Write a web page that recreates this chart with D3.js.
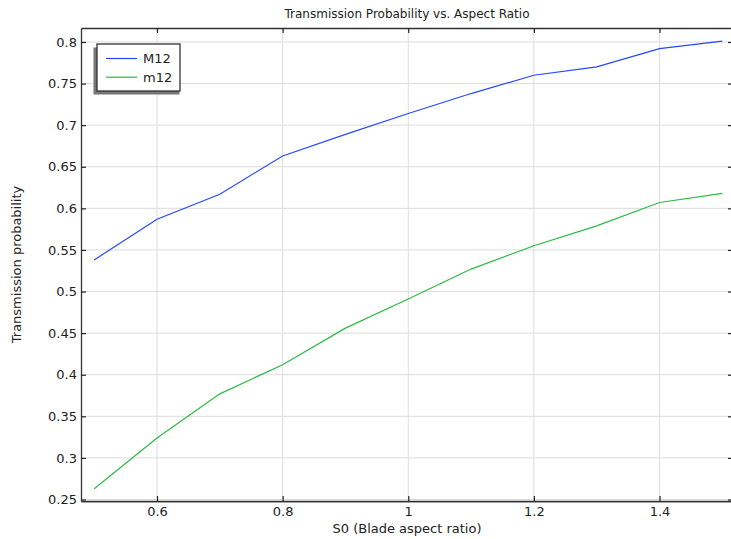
<!DOCTYPE html>
<html>
<head>
<meta charset="utf-8">
<script src="https://cdn.jsdelivr.net/npm/d3@7"></script>
<style>
  body { margin: 0; background: #fff; }
  text { font-family: "DejaVu Sans", sans-serif; fill: #222; }
</style>
</head>
<body>
<div id="chart"></div>
<script>
// aspect ratio values
const aspect = [0.5, 0.6, 0.7, 0.8, 0.9, 1.0, 1.1, 1.2, 1.3, 1.4, 1.5];
const seriesM12 = [0.538, 0.587, 0.617, 0.663, 0.689, 0.714, 0.738, 0.760, 0.770, 0.792, 0.801];
const seriesm12 = [0.263, 0.324, 0.377, 0.412, 0.456, 0.491, 0.527, 0.555, 0.579, 0.607, 0.618];
const xTicks = [0.6, 0.8, 1.0, 1.2, 1.4];
const yTicks = [0.25, 0.3, 0.35, 0.4, 0.45, 0.5, 0.55, 0.6, 0.65, 0.7, 0.75, 0.8];
const seriesNames = ["M12", "m12"];

const svg = d3.select("#chart")
    .append("svg")
    .attr("width", 731)
    .attr("height", 539);

const pLeft = 81, pRight = 733, pTop = 28, pBottom = 501;

const xScale = d3.scaleLinear().domain([0.479, 1.517]).range([pLeft, pRight]);
const yScale = d3.scaleLinear().domain([0.2482, 0.8168]).range([pBottom, pTop]);

// grid
svg.append("g").selectAll("line")
    .data(xTicks)
    .join("line")
    .attr("x1", d => xScale(d)).attr("x2", d => xScale(d))
    .attr("y1", pTop).attr("y2", pBottom)
    .attr("stroke", "#dcdcdc");

svg.append("g").selectAll("line")
    .data(yTicks)
    .join("line")
    .attr("x1", pLeft).attr("x2", pRight)
    .attr("y1", d => yScale(d)).attr("y2", d => yScale(d))
    .attr("stroke", "#dcdcdc");

// axes, ticks inward
const fmt = d => d3.format("~g")(d);
const xAxisB = d3.axisBottom(xScale).tickValues(xTicks).tickSizeInner(-5).tickSizeOuter(0).tickPadding(6).tickFormat(fmt);
const xAxisT = d3.axisTop(xScale).tickValues(xTicks).tickSizeInner(-5).tickSizeOuter(0).tickFormat("");
const yAxisL = d3.axisLeft(yScale).tickValues(yTicks).tickSizeInner(-5).tickSizeOuter(0).tickPadding(4).tickFormat(fmt);
const yAxisR = d3.axisRight(yScale).tickValues(yTicks).tickSizeInner(-5).tickSizeOuter(0).tickFormat("");

function styleAxis(g) {
    g.select(".domain").attr("stroke", "#333").attr("stroke-width", 1.3);
    g.selectAll(".tick line").attr("stroke", "#222").attr("stroke-width", 1.2);
    g.selectAll(".tick text").style("font-size", "13px").attr("fill", "#222");
}

svg.append("line")
    .attr("x1", pLeft).attr("x2", pRight)
    .attr("y1", pBottom + 1).attr("y2", pBottom + 1)
    .attr("stroke", "#c8c8c8").attr("stroke-width", 2);

svg.append("g").attr("transform", `translate(0,${pBottom})`).call(xAxisB).call(styleAxis);
svg.append("g").attr("transform", `translate(0,${pTop})`).call(xAxisT).call(styleAxis);
svg.append("g").attr("transform", `translate(${pLeft},0)`).call(yAxisL).call(styleAxis);
svg.append("g").attr("transform", `translate(${pRight},0)`).call(yAxisR).call(styleAxis);

// lines
const line = d3.line()
    .x((d, i) => xScale(aspect[i]))
    .y(d => yScale(d));

const colors = ["#2448ff", "#2cba44"];
[seriesM12, seriesm12].forEach((s, k) => {
    svg.append("path")
        .datum(s)
        .attr("d", line)
        .attr("fill", "none")
        .attr("stroke", colors[k])
        .attr("stroke-width", 1.2);
});

// title and labels
svg.append("text")
    .attr("x", (pLeft + pRight) / 2).attr("y", 18)
    .attr("text-anchor", "middle")
    .style("font-size", "12px")
    .text("Transmission Probability vs. Aspect Ratio");

svg.append("text")
    .attr("x", (pLeft + pRight) / 2).attr("y", 533)
    .attr("text-anchor", "middle")
    .style("font-size", "13px")
    .text("S0 (Blade aspect ratio)");

svg.append("text")
    .attr("transform", `translate(21,${(pTop + pBottom) / 2}) rotate(-90)`)
    .attr("text-anchor", "middle")
    .style("font-size", "13px")
    .text("Transmission probability");

// legend
const lg = svg.append("g");
lg.append("rect")
    .attr("x", 93.5).attr("y", 47.5)
    .attr("width", 86).attr("height", 47)
    .attr("fill", "#777");
lg.append("rect")
    .attr("x", 97).attr("y", 44)
    .attr("width", 83).attr("height", 47)
    .attr("fill", "#fff").attr("stroke", "#333").attr("stroke-width", 1.3);
seriesNames.forEach((n, i) => {
    const yy = 58.5 + i * 18.7;
    lg.append("line")
        .attr("x1", 106).attr("x2", 137)
        .attr("y1", yy).attr("y2", yy)
        .attr("stroke", colors[i]).attr("stroke-width", 1.2);
    lg.append("text")
        .attr("x", 143).attr("y", yy + 4.5)
        .style("font-size", "13px")
        .text(n);
});
</script>
</body>
</html>
